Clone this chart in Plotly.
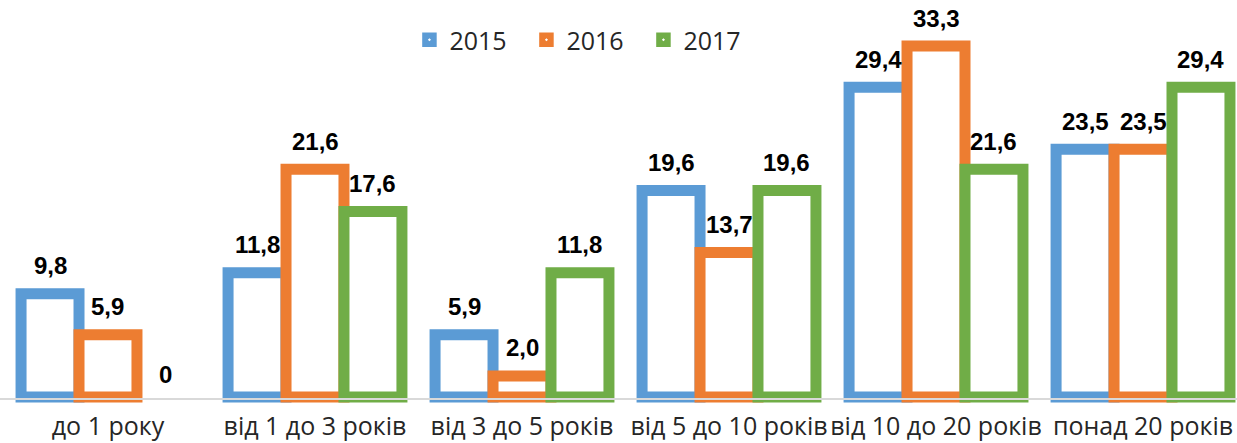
import plotly.graph_objects as go

categories = ["до 1 року", "від 1 до 3 років", "від 3 до 5 років",
              "від 5 до 10 років", "від 10 до 20 років", "понад 20 років"]
series_names = ["2015", "2016", "2017"]
values_2015 = [9.8, 11.8, 5.9, 19.6, 29.4, 23.5]
values_2016 = [5.9, 21.6, 2.0, 13.7, 33.3, 23.5]
values_2017 = [0, 17.6, 11.8, 19.6, 21.6, 29.4]
colors = ["#5B9BD5", "#ED7D31", "#70AD47"]

all_values = [values_2015, values_2016, values_2017]

W, H = 1237, 443
MARGIN_B = 13
X_RANGE = [-0.5217, 5.454]
Y_RANGE = [-3.13, 37.67]
BARGAP = 0.16
LINE_W = 11


def fmt(v):
    return "0" if v == 0 else f"{v:.1f}".replace(".", ",")


fig = go.Figure()
for name, vals, col in zip(series_names, all_values, colors):
    fig.add_trace(go.Bar(
        x=categories, y=vals, name=name,
        marker=dict(color="white",
                    line=dict(color=col, width=[0 if v == 0 else LINE_W for v in vals])),
        showlegend=False, hoverinfo="x+y",
    ))

# value labels placed at the bar tops through the axes' scales
px_per_cat = W / (X_RANGE[1] - X_RANGE[0])
bar_px = (1 - BARGAP) / len(series_names) * px_per_cat
for si, vals in enumerate(all_values):
    for cat, v in zip(categories, vals):
        lw = 0 if v == 0 else LINE_W
        fig.add_annotation(
            x=cat, y=v, xref="x", yref="y", text=fmt(v), showarrow=False,
            xanchor="center", yanchor="bottom",
            xshift=(si - 1) * bar_px, yshift=lw / 2 + 7,
            font=dict(family="Liberation Sans", size=24, color="black", weight="bold"),
        )

# legend entries
for name, col in zip(series_names, colors):
    fig.add_trace(go.Scatter(
        x=[None], y=[None], mode="markers", name=name,
        marker=dict(symbol="square-dot", size=16, color=col,
                    line=dict(color="white", width=1.5)),
    ))

plot_h = H - MARGIN_B
fig.update_layout(
    width=W, height=H,
    margin=dict(l=0, r=0, t=0, b=MARGIN_B),
    plot_bgcolor="white", paper_bgcolor="white",
    barmode="group", bargap=BARGAP, bargroupgap=0,
    font=dict(family="Open Sans", color="#262626"),
    legend=dict(orientation="h", x=0.331, xanchor="left", y=1 - 40 / plot_h, yanchor="middle",
                font=dict(size=25, color="#262626"), entrywidth=72,
                bgcolor="rgba(0,0,0,0)"),
    xaxis=dict(range=X_RANGE, showline=True, linecolor="#D9D9D9", linewidth=2,
               anchor="free", position=(plot_h - 399) / plot_h,
               ticks="", tickfont=dict(size=25, color="#262626"), showgrid=False,
               ticklabelstandoff=5, layer="above traces"),
    yaxis=dict(range=Y_RANGE, visible=False, showgrid=False, zeroline=False),
)

fig.write_html("out.html", config={"displayModeBar": False},
               post_script="document.body.style.margin='0';document.body.style.overflow='hidden';")
